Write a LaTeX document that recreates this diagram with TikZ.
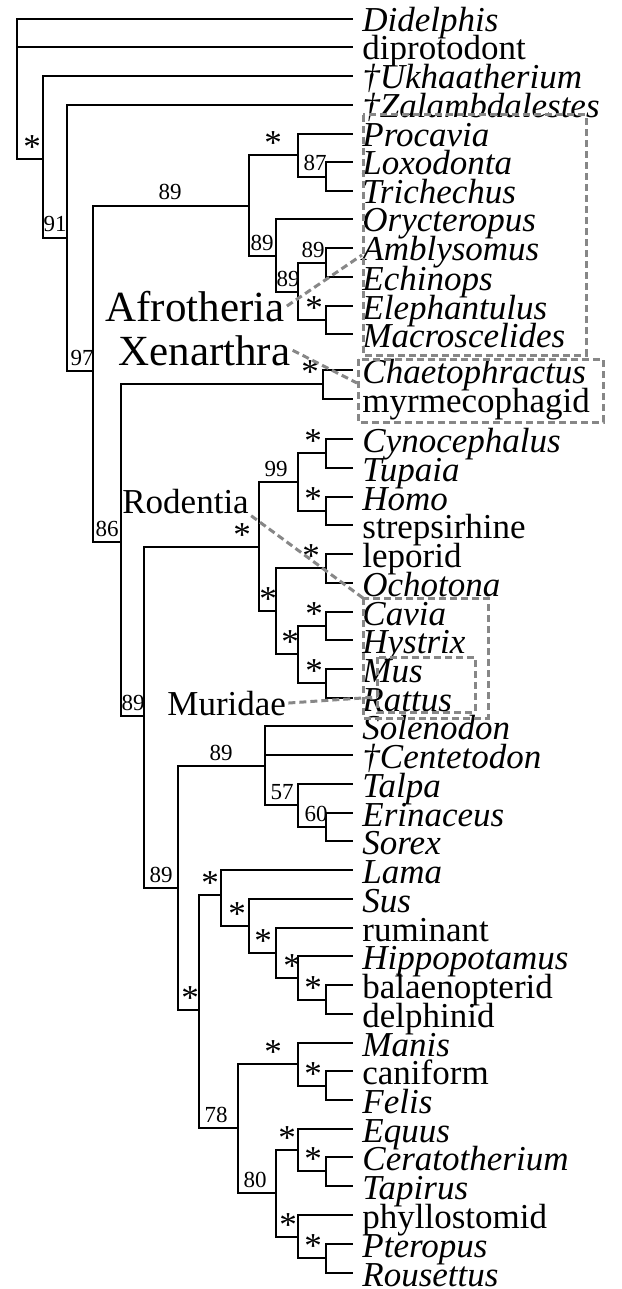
\documentclass[tikz,border=0pt]{standalone}
\usepackage{fontspec}
\setmainfont{Liberation Serif}
\usetikzlibrary{calc}
\definecolor{cladegray}{RGB}{135,135,135}

\tikzset{
  branch/.style={line width=1pt},
  taxon/.style={anchor=west, inner xsep=4.5pt, inner ysep=0pt, text height=13pt,
                text depth=0pt, font=\fontsize{17.5}{18}\selectfont},
  bsnum/.style={anchor=base, inner sep=0pt, yshift=3pt, font=\fontsize{11.5}{12}\selectfont},
  bsstar/.style={anchor=base, inner sep=0pt, yshift=0.3pt, font=\fontsize{17.5}{18}\selectfont},
  cladename/.style={anchor=base west, inner sep=1pt},
  cladebox/.style={draw=cladegray, line width=1.5pt, dash pattern=on 3.5pt off 2pt},
  leader/.style={cladegray, line width=1.5pt, dash pattern=on 3.5pt off 2pt}
}

\begin{document}
\begin{tikzpicture}[x=0.5pt, y=-0.5pt]
  \useasboundingbox (0,0) rectangle (621,1289);

  % taxa
  \foreach \n/\y/\t in {
      didelphis/19/\textit{Didelphis}, diprotodont/47/diprotodont,
      ukhaatherium/76/\textit{†Ukhaatherium}, zalambdalestes/105/\textit{†Zalambdalestes},
      procavia/134/\textit{Procavia}, loxodonta/162/\textit{Loxodonta},
      trichechus/191/\textit{Trichechus}, orycteropus/219/\textit{Orycteropus},
      amblysomus/248/\textit{Amblysomus}, echinops/277/\textit{Echinops},
      elephantulus/306/\textit{Elephantulus}, macroscelides/334/\textit{Macroscelides},
      chaetophractus/370/\textit{Chaetophractus}, myrmecophagid/399/myrmecophagid,
      cynocephalus/439/\textit{Cynocephalus}, tupaia/468/\textit{Tupaia},
      homo/497/\textit{Homo}, strepsirhine/525/strepsirhine,
      leporid/554/leporid, ochotona/583/\textit{Ochotona},
      cavia/612/\textit{Cavia}, hystrix/640/\textit{Hystrix},
      mus/669/\textit{Mus}, rattus/698/\textit{Rattus},
      solenodon/726/\textit{Solenodon}, centetodon/755/\textit{†Centetodon},
      talpa/784/\textit{Talpa}, erinaceus/813/\textit{Erinaceus},
      sorex/841/\textit{Sorex}, lama/870/\textit{Lama},
      sus/899/\textit{Sus}, ruminant/928/ruminant,
      hippopotamus/956/\textit{Hippopotamus}, balaenopterid/985/balaenopterid,
      delphinid/1014/delphinid, manis/1043/\textit{Manis},
      caniform/1071/caniform, felis/1100/\textit{Felis},
      equus/1129/\textit{Equus}, ceratotherium/1157/\textit{Ceratotherium},
      tapirus/1186/\textit{Tapirus}, phyllostomid/1215/phyllostomid,
      pteropus/1244/\textit{Pteropus}, rousettus/1273/\textit{Rousettus}}
    \node[taxon] (\n) at (353,\y) {\t};

  % internal nodes
  \coordinate (root) at (17,89);
  \coordinate (nA) at (43,159);
  \coordinate (nB) at (67,238);
  \coordinate (placentalia) at (93,371);
  \coordinate (afro) at (249,206);
  \coordinate (paen) at (298,155);
  \coordinate (loxtri) at (326,177);
  \coordinate (afroins) at (276,256);
  \coordinate (afroins2) at (298,292);
  \coordinate (tenrec) at (326,263);
  \coordinate (macrosc) at (326,320);
  \coordinate (nD) at (121,542);
  \coordinate (xen) at (323,384);
  \coordinate (boreo) at (144,716);
  \coordinate (euarch) at (259,547);
  \coordinate (euarchonta) at (298,482);
  \coordinate (sunda) at (326,453);
  \coordinate (primates) at (326,511);
  \coordinate (glires) at (276,611);
  \coordinate (lago) at (326,568);
  \coordinate (rodent) at (298,654);
  \coordinate (hystricog) at (326,626);
  \coordinate (murid) at (326,683);
  \coordinate (laura) at (178,888);
  \coordinate (eulipo) at (265,766);
  \coordinate (eulipo2) at (298,805);
  \coordinate (erisor) at (326,827);
  \coordinate (scrot) at (199,1010);
  \coordinate (cetart) at (221,895);
  \coordinate (artio1) at (249,926);
  \coordinate (artio2) at (276,953);
  \coordinate (whippo) at (298,978);
  \coordinate (cetacea) at (326,1000);
  \coordinate (fereung) at (238,1128);
  \coordinate (ferae) at (298,1064);
  \coordinate (carniv) at (326,1086);
  \coordinate (perisbat) at (276,1193);
  \coordinate (perisso) at (298,1150);
  \coordinate (ceratap) at (326,1171);
  \coordinate (chiro) at (298,1237);
  \coordinate (pteroz) at (326,1258);

  % branches
  \foreach \p/\c in {
      root/didelphis.west, root/diprotodont.west, root/nA,
      nA/ukhaatherium.west, nA/nB, nB/zalambdalestes.west, nB/placentalia,
      placentalia/afro, placentalia/nD,
      afro/paen, afro/afroins, paen/procavia.west, paen/loxtri,
      loxtri/loxodonta.west, loxtri/trichechus.west,
      afroins/orycteropus.west, afroins/afroins2, afroins2/tenrec, afroins2/macrosc,
      tenrec/amblysomus.west, tenrec/echinops.west,
      macrosc/elephantulus.west, macrosc/macroscelides.west,
      nD/xen, nD/boreo, xen/chaetophractus.west, xen/myrmecophagid.west,
      boreo/euarch, boreo/laura,
      euarch/euarchonta, euarch/glires, euarchonta/sunda, euarchonta/primates,
      sunda/cynocephalus.west, sunda/tupaia.west, primates/homo.west, primates/strepsirhine.west,
      glires/lago, glires/rodent, lago/leporid.west, lago/ochotona.west,
      rodent/hystricog, rodent/murid, hystricog/cavia.west, hystricog/hystrix.west,
      murid/mus.west, murid/rattus.west,
      laura/eulipo, laura/scrot, eulipo/solenodon.west, eulipo/centetodon.west, eulipo/eulipo2,
      eulipo2/talpa.west, eulipo2/erisor, erisor/erinaceus.west, erisor/sorex.west,
      scrot/cetart, scrot/fereung, cetart/lama.west, cetart/artio1,
      artio1/sus.west, artio1/artio2, artio2/ruminant.west, artio2/whippo,
      whippo/hippopotamus.west, whippo/cetacea,
      cetacea/balaenopterid.west, cetacea/delphinid.west,
      fereung/ferae, fereung/perisbat, ferae/manis.west, ferae/carniv,
      carniv/caniform.west, carniv/felis.west,
      perisbat/perisso, perisbat/chiro, perisso/equus.west, perisso/ceratap,
      ceratap/ceratotherium.west, ceratap/tapirus.west,
      chiro/phyllostomid.west, chiro/pteroz, pteroz/pteropus.west, pteroz/rousettus.west}
    \draw[branch] (\p) |- (\c);

  % support values
  \foreach \n/\x/\y/\t in {nB/55/238/91, placentalia/82/371/97, afro/170/206/89,
      loxtri/315/177/87, afroins/262/256/89, afroins2/288/292/89, tenrec/313/263/89,
      nD/107/542/86, boreo/133/716/89, euarchonta/276/482/99, laura/161/888/89,
      eulipo/221/766/89, eulipo2/282/805/57, erisor/316/827/60,
      fereung/216/1128/78, perisbat/255/1193/80}
    \node[bsnum] (s-\n) at (\x,\y) {\t};
  \foreach \n/\x/\y in {nA/32/159, paen/273/155, macrosc/314/320, xen/310/384,
      euarch/242/547, sunda/313/453, primates/313/511, glires/268/611, lago/311/568,
      rodent/290/654, hystricog/314/626, murid/314/683, scrot/190/1010,
      cetart/210/895, artio1/237/926, artio2/263/953, whippo/292/978, cetacea/313/1000,
      ferae/273/1064, carniv/313/1086, perisso/287/1150, ceratap/313/1171,
      chiro/288/1237, pteroz/313/1258}
    \node[bsstar] (s-\n) at (\x,\y) {*};

  % clade boxes
  \draw[cladebox] (363,115) rectangle (586,355);
  \draw[cladebox] (358,359) rectangle (603,422);
  \draw[cladebox] (363,598) rectangle (488,718);
  \draw[cladebox] (377,657) rectangle (475,712);

  % clade names and leaders
  \node[cladename, font=\fontsize{21.5}{22}\selectfont] (afrolbl) at (103,321) {Afrotheria};
  \node[cladename, font=\fontsize{21.5}{22}\selectfont] (xenlbl) at (116,365) {Xenarthra};
  \node[cladename, font=\fontsize{17.5}{18}\selectfont] (rodlbl) at (120,513) {Rodentia};
  \node[cladename, font=\fontsize{17.5}{18}\selectfont] (murlbl) at (165,715) {Muridae};
  \coordinate (afroEnd) at (362,255);
  \coordinate (xenEnd) at (357,383);
  \coordinate (rodEnd) at (363,598);
  \coordinate (murEnd) at (377,697);
  \draw[leader] (afrolbl.east) -- (afroEnd);
  \draw[leader] (xenlbl.east) -- (xenEnd);
  \draw[leader] (rodlbl.south east) -- (rodEnd);
  \draw[leader] (murlbl.east) -- (murEnd);
\end{tikzpicture}
\end{document}
